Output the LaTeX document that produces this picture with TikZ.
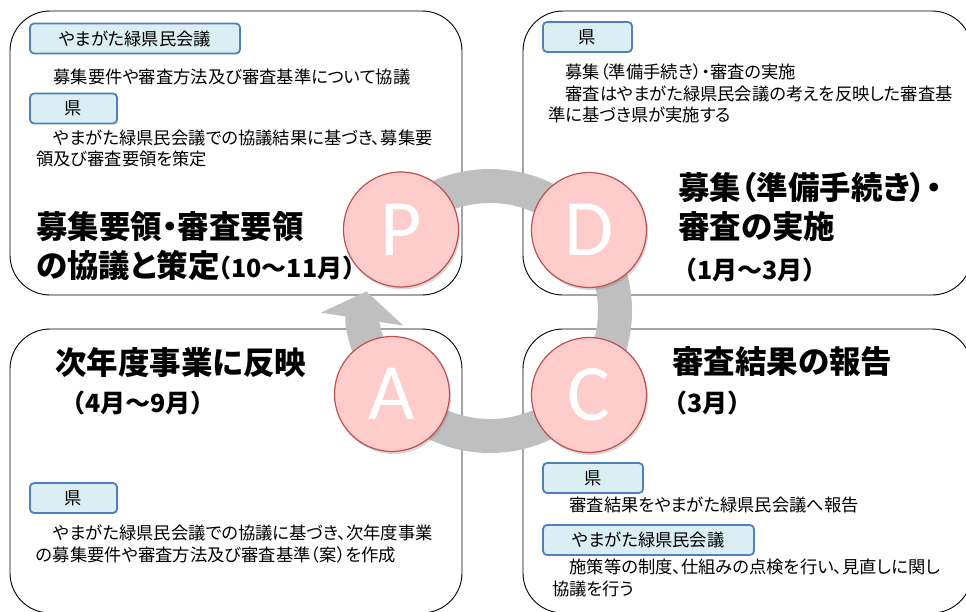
\documentclass[tikz,border=0pt]{standalone}
\usepackage{fontspec}
\setmainfont{Noto Sans CJK JP}[RawFeature=+palt]
\newfontfamily\widefont{Noto Sans CJK JP}
\newfontfamily\letterfont{Carlito}
\usepackage{xcolor}
\usetikzlibrary{
    arrows.meta,
    shadows
}

\definecolor{tagfill}{HTML}{DAEEF3}
\definecolor{tagline}{HTML}{4F81BD}
\definecolor{ringgray}{HTML}{BFBFBF}
\definecolor{phasefill}{HTML}{FFCCCC}
\definecolor{phaseline}{HTML}{C0504D}

\begin{document}
\begin{tikzpicture}[x=1pt, y=-1pt,
    panel/.style={draw, line width=0.9pt, rounded corners=40pt, fill=white, inner sep=0pt},
    tag/.style={draw=tagline, fill=tagfill, line width=1.8pt, rounded corners=4pt, minimum height=30pt, inner sep=0pt, font=\fontsize{17.3}{20}\selectfont},
    body/.style={anchor=west, inner sep=0pt, align=left, font=\fontsize{17.3}{21.5}\selectfont},
    head/.style={anchor=west, inner sep=0pt, align=left, font=\bfseries\fontsize{31.5}{39}\selectfont},
    period/.style={anchor=west, inner sep=0pt, font=\widefont\bfseries\fontsize{25}{28}\selectfont},
    phase/.style={circle, draw=phaseline, line width=1.2pt, fill=phasefill, minimum size=115pt, inner sep=0pt, text=white, font=\letterfont\fontsize{80}{80}\selectfont, drop shadow={shadow xshift=1.5pt, shadow yshift=-2.5pt, opacity=0.3}}
]
            \useasboundingbox (0,0) rectangle (966,611);
            \clip (0,0) rectangle (966,611);

            % four panels
            \node[panel, minimum width=452pt, minimum height=284pt] (planbox)  at (236, 153) {};
            \node[panel, minimum width=449pt, minimum height=284pt] (dobox)    at (747.5, 153) {};
            \node[panel, minimum width=452pt, minimum height=284pt] (actbox)   at (236, 471) {};
            \node[panel, minimum width=449pt, minimum height=284pt] (checkbox) at (747.5, 471) {};

            % plan
            \node[tag, minimum width=210pt] (plantag1) at (135, 38.5) {やまがた緑県民会議};
            \node[body] (plantext1) at (36, 77) {　募集要件や審査方法及び審査基準について協議};
            \node[tag, minimum width=87pt] (plantag2) at (73.5, 108.5) {県};
            \node[body] (plantext2) at (36, 148.5) {　やまがた緑県民会議での協議結果に基づき、募集要\\領及び審査要領を策定};
            \node[head] (planhead) at (36, 246) {募集要領・審査要領\\の協議と策定{\widefont\fontsize{25}{28}\selectfont\kern-13pt（10～11月）}};

            % do
            \node[tag, minimum width=89pt] (dotag) at (587.5, 37) {県};
            \node[body] (dotext) at (548, 93.5) {　募集（準備手続き）・審査の実施\\　審査はやまがた緑県民会議の考えを反映した審査基\\準に基づき県が実施する};
            \node[head] (dohead) at (678, 207) {募集（準備手続き）・\\審査の実施};
            \node[period] (doperiod) at (672, 270) {（1月～3月）};

            % check
            \node[head] (checkhead) at (672, 362) {審査結果の報告};
            \node[period] (checkperiod) at (662, 403) {（3月）};
            \node[tag, minimum width=100pt] (checktag1) at (593, 478) {県};
            \node[body] (checktext1) at (552, 505) {　審査結果をやまがた緑県民会議へ報告};
            \node[tag, minimum width=211pt] (checktag2) at (648.5, 540) {やまがた緑県民会議};
            \node[body] (checktext2) at (552, 578) {　施策等の制度、仕組みの点検を行い、見直しに関し\\協議を行う};

            % act
            \node[head] (acthead) at (55, 363) {次年度事業に反映};
            \node[period] (actperiod) at (60, 403) {（4月～9月）};
            \node[tag, minimum width=87pt] (acttag) at (73.5, 498) {県};
            \node[body] (acttext) at (36, 544) {　やまがた緑県民会議での協議に基づき、次年度事業\\の募集要件や審査方法及び審査基準（案）を作成};

            % cycle
            \coordinate (hub) at (490, 311);
            \draw[ringgray, line width=34pt, -{Triangle[width=82pt, length=28pt]}]
                (hub) ++(230:125) arc[start angle=230, end angle=549, radius=125];

            \node[phase] (p) at (401, 229.5) {P};
            \node[phase] (d) at (589, 230) {D};
            \node[phase] (c) at (589, 395) {C};
            \node[phase] (a) at (392, 394) {A};
\end{tikzpicture}
\end{document}
